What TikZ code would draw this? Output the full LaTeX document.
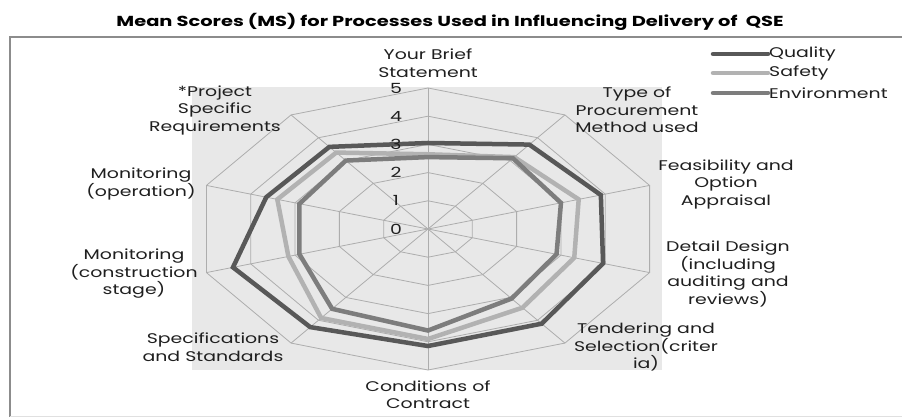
\documentclass[tikz,border=0pt]{standalone}
\usepackage{fontspec}
\setmainfont{Poppins}[FakeStretch=1.35]
\newfontfamily\titlefont{Poppins}[FakeStretch=1.34]
\begin{document}
\begin{tikzpicture}[x=1pt,y=-1pt,
  lbl/.style={align=center,font=\fontsize{14}{17.5}\selectfont,text=black!88,inner sep=0pt},
  tick/.style={font=\fontsize{14}{14}\selectfont,text=black!88,inner sep=0pt},
  grid/.style={draw=black!32,line width=0.8pt},
  qual/.style={draw=qcol,line width=4.5pt,line join=miter},
  safe/.style={draw=scol,line width=4.5pt,line join=miter},
  envi/.style={draw=ecol,line width=4.5pt,line join=miter}]
\definecolor{qcol}{RGB}{88,88,88}
\definecolor{scol}{RGB}{178,178,178}
\definecolor{ecol}{RGB}{125,125,125}
\definecolor{bgc}{RGB}{232,232,232}
\useasboundingbox (0,0) rectangle (902,417);
\fill[white] (0,0) rectangle (902,417);
% frame
\draw[black!45,line width=1.2pt] (10,417) -- (10,37) -- (902,37);
\draw[black!12,line width=0.8pt] (10,416) -- (902,416);
% title
\node[font=\titlefont\bfseries\fontsize{14.5}{16}\selectfont,inner sep=0pt] (title) at (450,22) {Mean Scores (MS) for Processes Used in Influencing Delivery of\ \ QSE};
% plot area
\fill[bgc] (192,87) rectangle (662,370);
\def\cx{428}\def\cy{229}\def\rx{46.6}\def\ry{28.2}
% grid polygons
\foreach \v in {1,...,5}{
  \draw[grid] ({\cx},{\cy-\ry*\v})
    \foreach \k in {1,...,9}{ -- ({\cx+\rx*\v*sin(36*\k)},{\cy-\ry*\v*cos(36*\k)}) } -- cycle;
}
\foreach \k in {0,...,9}{
  \draw[grid] (\cx,\cy) -- ({\cx+\rx*5*sin(36*\k)},{\cy-\ry*5*cos(36*\k)});
}
% series
\newcommand{\radarline}[2]{%
  \draw[#1] \foreach [count=\k from 0] \v in {#2}{
    \ifnum\k=0 ({\cx+\rx*\v*sin(36*\k)},{\cy-\ry*\v*cos(36*\k)})\else
    -- ({\cx+\rx*\v*sin(36*\k)},{\cy-\ry*\v*cos(36*\k)})\fi } -- cycle;}
\radarline{qual}{3.05,3.7,3.9,3.95,4.15,4.15,4.3,4.4,3.65,3.6}
\radarline{safe}{2.65,3.15,3.4,3.3,3.45,3.9,3.9,3.15,3.4,3.35}
\radarline{envi}{2.55,3.1,3.0,2.9,3.05,3.6,3.5,2.9,2.9,3.0}
% tick labels
\foreach \v in {0,...,5}{
  \node[tick] (t\v) at (396,{\cy-\ry*\v}) {\v};
}
% category labels
\node[lbl] (c0) at (428,63) {Your Brief\\Statement};
\node[lbl] (c1) at (637,110) {Type of\\Procurement\\Method used};
\node[lbl] (c2) at (726,184) {Feasibility and\\Option\\Appraisal};
\node[lbl] (c3) at (728,274) {Detail Design\\(including\\auditing and\\reviews)};
\node[lbl] (c4) at (646,347) {Tendering and\\Selection(criter\\ia)};
\node[lbl] (c5) at (428,394.5) {Conditions of\\Contract};
\node[lbl] (c6) at (213,347) {Specifications\\and Standards};
\node[lbl] (c7) at (134,274) {Monitoring\\(construction\\stage)};
\node[lbl] (c8) at (141,184) {Monitoring\\(operation)};
\node[lbl] (c9) at (215,110) {*Project\\Specific\\Requirements};
% legend
\coordinate (la1) at (713,54); \coordinate (lb1) at (768,54);
\coordinate (la2) at (713,73); \coordinate (lb2) at (768,73);
\coordinate (la3) at (713,93); \coordinate (lb3) at (768,93);
\draw[qual,line cap=round] (la1) -- (lb1);
\draw[safe,line cap=round] (la2) -- (lb2);
\draw[envi,line cap=round] (la3) -- (lb3);
\node[lbl,anchor=west] (l1) at (769,54) {Quality};
\node[lbl,anchor=west] (l2) at (769,73) {Safety};
\node[lbl,anchor=west] (l3) at (769,93) {Environment};
\end{tikzpicture}
\end{document}
